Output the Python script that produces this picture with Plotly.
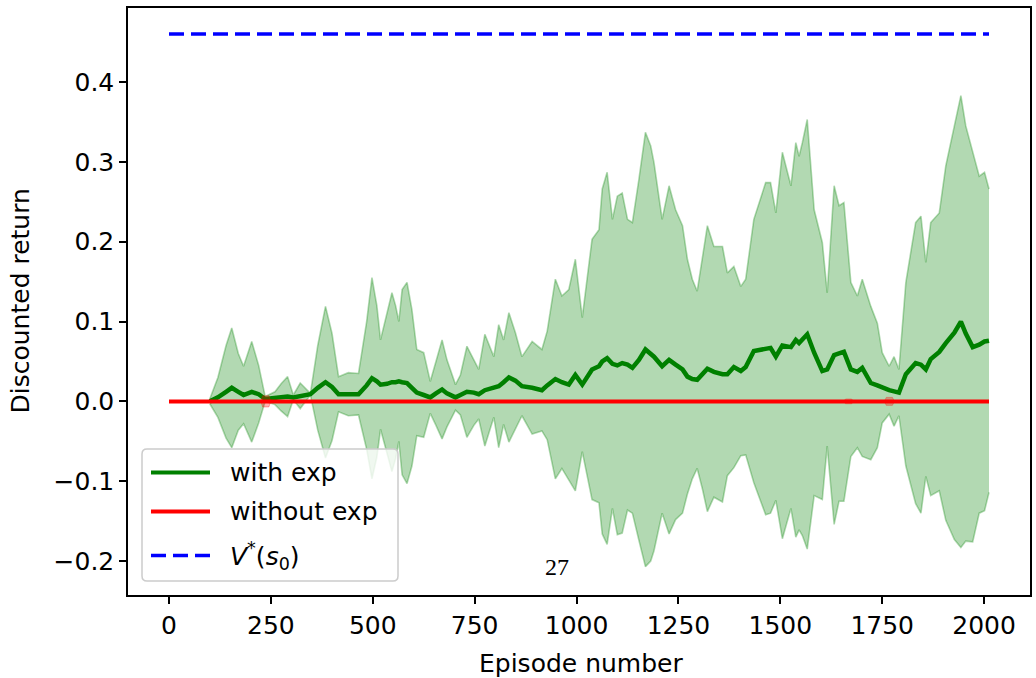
import plotly.graph_objects as go

# ---------------- data ----------------
episodes = [100, 120, 140, 154, 170, 183, 203, 220, 236, 260, 275, 291, 305, 322, 347, 365,
            384, 400, 416, 440, 465, 485, 498, 510, 519, 535, 547, 556, 564, 572, 584, 596,
            608, 625, 641, 655, 670, 682, 703, 715, 731, 748, 760, 775, 797, 809, 821, 834,
            850, 866, 891, 915, 928, 948, 964, 981, 997, 1014, 1038, 1055, 1063, 1075, 1088,
            1100, 1112, 1125, 1137, 1153, 1169, 1182, 1190, 1210, 1227, 1243, 1260, 1272, 1284,
            1296, 1309, 1321, 1337, 1358, 1370, 1386, 1403, 1415, 1435, 1464, 1476, 1489, 1505,
            1526, 1538, 1546, 1554, 1566, 1583, 1603, 1615, 1632, 1644, 1656, 1673, 1689, 1701,
            1722, 1738, 1750, 1767, 1779, 1791, 1808, 1832, 1845, 1857, 1869, 1890, 1906, 1927,
            1943, 1955, 1972, 1988, 2001, 2012]

mean_with_exp = [0.000, 0.005, 0.012, 0.017, 0.012, 0.008, 0.012, 0.009, 0.003, 0.004, 0.005,
                 0.006, 0.005, 0.007, 0.009, 0.017, 0.024, 0.018, 0.009, 0.009, 0.009, 0.020,
                 0.029, 0.025, 0.021, 0.022, 0.024, 0.024, 0.025, 0.024, 0.023, 0.017, 0.011,
                 0.008, 0.005, 0.010, 0.015, 0.010, 0.005, 0.008, 0.012, 0.011, 0.009, 0.014,
                 0.018, 0.019, 0.024, 0.030, 0.026, 0.019, 0.017, 0.014, 0.020, 0.028, 0.024,
                 0.021, 0.033, 0.021, 0.040, 0.044, 0.050, 0.054, 0.047, 0.045, 0.048, 0.046,
                 0.042, 0.052, 0.065, 0.060, 0.056, 0.044, 0.052, 0.046, 0.040, 0.031, 0.028,
                 0.027, 0.034, 0.041, 0.037, 0.034, 0.034, 0.043, 0.038, 0.043, 0.063, 0.066,
                 0.067, 0.056, 0.070, 0.068, 0.077, 0.073, 0.078, 0.084, 0.061, 0.038, 0.040,
                 0.058, 0.060, 0.062, 0.040, 0.037, 0.042, 0.023, 0.020, 0.017, 0.014, 0.0125,
                 0.011, 0.034, 0.048, 0.046, 0.040, 0.053, 0.062, 0.073, 0.086, 0.100, 0.085,
                 0.068, 0.071, 0.075, 0.076]

upper_with_exp = [0.003, 0.030, 0.070, 0.092, 0.060, 0.044, 0.075, 0.045, 0.006, 0.012, 0.022,
                  0.031, 0.008, 0.023, 0.010, 0.070, 0.119, 0.085, 0.031, 0.036, 0.035, 0.100,
                  0.155, 0.120, 0.077, 0.110, 0.136, 0.120, 0.100, 0.140, 0.149, 0.115, 0.065,
                  0.061, 0.025, 0.050, 0.077, 0.052, 0.021, 0.033, 0.069, 0.052, 0.040, 0.084,
                  0.056, 0.096, 0.077, 0.111, 0.086, 0.056, 0.075, 0.065, 0.088, 0.153, 0.132,
                  0.140, 0.178, 0.105, 0.203, 0.215, 0.266, 0.287, 0.228, 0.257, 0.261, 0.228,
                  0.224, 0.278, 0.337, 0.320, 0.299, 0.228, 0.270, 0.240, 0.220, 0.178, 0.153,
                  0.138, 0.178, 0.220, 0.194, 0.194, 0.161, 0.169, 0.144, 0.153, 0.228, 0.274,
                  0.274, 0.236, 0.312, 0.270, 0.324, 0.307, 0.324, 0.353, 0.240, 0.199, 0.136,
                  0.270, 0.245, 0.249, 0.149, 0.132, 0.153, 0.119, 0.098, 0.061, 0.044, 0.056,
                  0.040, 0.149, 0.224, 0.232, 0.174, 0.224, 0.236, 0.295, 0.345, 0.383, 0.345,
                  0.312, 0.282, 0.287, 0.266]

lower_with_exp = [-0.003, -0.020, -0.046, -0.058, -0.036, -0.028, -0.051, -0.027, 0.000, -0.004,
                  -0.012, -0.019, 0.002, -0.009, 0.008, -0.036, -0.071, -0.049, -0.013, -0.018,
                  -0.017, -0.060, -0.097, -0.070, -0.035, -0.066, -0.088, -0.072, -0.050, -0.092,
                  -0.103, -0.081, -0.043, -0.045, -0.015, -0.030, -0.047, -0.032, -0.011, -0.017,
                  -0.045, -0.030, -0.022, -0.056, -0.020, -0.058, -0.029, -0.051, -0.034, -0.018,
                  -0.041, -0.037, -0.048, -0.097, -0.084, -0.098, -0.112, -0.063, -0.123, -0.127,
                  -0.166, -0.179, -0.134, -0.167, -0.165, -0.136, -0.140, -0.174, -0.207, -0.200,
                  -0.187, -0.140, -0.166, -0.148, -0.140, -0.116, -0.097, -0.084, -0.110, -0.138,
                  -0.120, -0.126, -0.093, -0.083, -0.068, -0.067, -0.102, -0.142, -0.140, -0.124,
                  -0.172, -0.134, -0.170, -0.161, -0.168, -0.185, -0.118, -0.123, -0.056, -0.154,
                  -0.125, -0.125, -0.069, -0.058, -0.069, -0.073, -0.058, -0.027, -0.016, -0.031,
                  -0.018, -0.081, -0.128, -0.140, -0.094, -0.118, -0.112, -0.149, -0.173, -0.183,
                  -0.175, -0.176, -0.140, -0.137, -0.114]

no_exp_episodes = [0, 225, 230, 245, 250, 1655, 1660, 1675, 1680, 1755, 1760, 1775, 1780, 2012]
mean_without_exp = [0.0] * len(no_exp_episodes)
std_without_exp = [0.0, 0.0, 0.007, 0.007, 0.0, 0.0, 0.003, 0.003, 0.0, 0.0, 0.005, 0.005, 0.0, 0.0]

v_star_episodes = [0, 2012]
v_star = [0.46, 0.46]

x_ticks = [0, 250, 500, 750, 1000, 1250, 1500, 1750, 2000]
y_ticks = [-0.2, -0.1, 0.0, 0.1, 0.2, 0.3, 0.4]
y_tick_labels = ["\u22120.2", "\u22120.1", "0.0", "0.1", "0.2", "0.3", "0.4"]

legend_labels = ["with exp", "without exp",
                 "<i>V</i><sup>*</sup>(<i>s</i><sub>0</sub>)"]
legend_colors = ["#008000", "#ff0000", "#0000ff"]

x_title = "Episode number"
y_title = "Discounted return"
page_number = "27"

# ---------------- layout constants ----------------
W, H = 1036, 678
ML, MR, MT, MB = 128, 6, 8, 83
PW, PH = W - ML - MR, H - MT - MB
FONT = "DejaVu Sans"
FS = 25


def px(x):
    return (x - ML) / PW


def py(y):
    return (H - MB - y) / PH


fig = go.Figure()

band_col = "rgba(0,128,0,0.3)"
fig.add_trace(go.Scatter(x=episodes, y=upper_with_exp, mode="lines",
                         line=dict(color=band_col, width=1.6), showlegend=False,
                         hoverinfo="skip"))
fig.add_trace(go.Scatter(x=episodes, y=lower_with_exp, mode="lines", fill="tonexty",
                         fillcolor=band_col, line=dict(color=band_col, width=1.6),
                         showlegend=False, hoverinfo="skip"))
fig.add_trace(go.Scatter(x=episodes, y=mean_with_exp, mode="lines",
                         line=dict(color="#008000", width=4.5), name="with exp",
                         showlegend=False))

red_up = [m + s for m, s in zip(mean_without_exp, std_without_exp)]
red_lo = [m - s for m, s in zip(mean_without_exp, std_without_exp)]
fig.add_trace(go.Scatter(x=no_exp_episodes, y=red_up, mode="lines",
                         line=dict(color="rgba(255,0,0,0.3)", width=1), showlegend=False,
                         hoverinfo="skip"))
fig.add_trace(go.Scatter(x=no_exp_episodes, y=red_lo, mode="lines", fill="tonexty",
                         fillcolor="rgba(255,0,0,0.3)",
                         line=dict(color="rgba(255,0,0,0.3)", width=1), showlegend=False,
                         hoverinfo="skip"))
fig.add_trace(go.Scatter(x=no_exp_episodes, y=mean_without_exp, mode="lines",
                         line=dict(color="#ff0000", width=4), name="without exp",
                         showlegend=False))
fig.add_trace(go.Scatter(x=v_star_episodes, y=v_star, mode="lines",
                         line=dict(color="#0000ff", width=3.5, dash="15px,7px"),
                         name="V*(s0)", showlegend=False))

# ---------------- manual legend (matplotlib style) ----------------
bx0, bx1, by0, by1, r = 142, 398, 449, 581, 5
rx, ry = r / PW, r / PH
X0, X1, Y0, Y1 = px(bx0), px(bx1), py(by1), py(by0)
path = (f"M{X0 + rx},{Y0} L{X1 - rx},{Y0} Q{X1},{Y0} {X1},{Y0 + ry} "
        f"L{X1},{Y1 - ry} Q{X1},{Y1} {X1 - rx},{Y1} L{X0 + rx},{Y1} "
        f"Q{X0},{Y1} {X0},{Y1 - ry} L{X0},{Y0 + ry} Q{X0},{Y0} {X0 + rx},{Y0} Z")
shapes = [dict(type="path", path=path, xref="paper", yref="paper",
               fillcolor="rgba(255,255,255,0.8)", line=dict(color="#cccccc", width=1.5),
               layer="above")]
annotations = []
row_y = [472.5, 511.5, 555.5]
for i, (lab, col) in enumerate(zip(legend_labels, legend_colors)):
    yy = py(row_y[i])
    shapes.append(dict(type="line", xref="paper", yref="paper", x0=px(151), x1=px(210),
                       y0=yy, y1=yy, layer="above",
                       line=dict(color=col, width=4 if i < 2 else 3.5,
                                 dash="solid" if i < 2 else "15px,7px")))
    annotations.append(dict(text=lab, xref="paper", yref="paper", x=px(228), y=yy,
                            xanchor="left", yanchor="middle", showarrow=False,
                            font=dict(family=FONT, size=FS, color="black")))

annotations.append(dict(text=page_number, xref="paper", yref="paper", x=px(557), y=py(567),
                        xanchor="center", yanchor="middle", showarrow=False,
                        font=dict(family="Liberation Serif, Times New Roman, serif",
                                  size=24, color="black")))
# axis titles placed like matplotlib's
annotations.append(dict(text=x_title, xref="paper", yref="paper", x=px(581), y=py(663),
                        xanchor="center", yanchor="middle", showarrow=False,
                        font=dict(family=FONT, size=FS, color="black")))
annotations.append(dict(text=y_title, xref="paper", yref="paper", x=px(20), y=0.5,
                        xanchor="center", yanchor="middle", showarrow=False, textangle=-90,
                        font=dict(family=FONT, size=FS, color="black")))

axis_common = dict(showgrid=False, zeroline=False, showline=True, linecolor="black",
                   linewidth=1.5, mirror=True, ticks="outside", ticklen=7, tickwidth=1.5,
                   tickcolor="black", automargin=False,
                   tickfont=dict(family=FONT, size=FS, color="black"))

fig.update_layout(
    width=W, height=H, margin=dict(l=ML, r=MR, t=MT, b=MB),
    paper_bgcolor="white", plot_bgcolor="white", showlegend=False,
    xaxis=dict(range=[-100.6, 2112.6], tickvals=x_ticks, ticktext=[str(t) for t in x_ticks],
               **axis_common),
    yaxis=dict(range=[-0.2425, 0.4927], tickvals=y_ticks, ticktext=y_tick_labels,
               **axis_common),
    shapes=shapes, annotations=annotations,
)

fig.write_html("out.html", config={"displayModeBar": False},
               post_script="document.body.style.margin='0';"
                           "document.body.style.overflow='hidden';")
